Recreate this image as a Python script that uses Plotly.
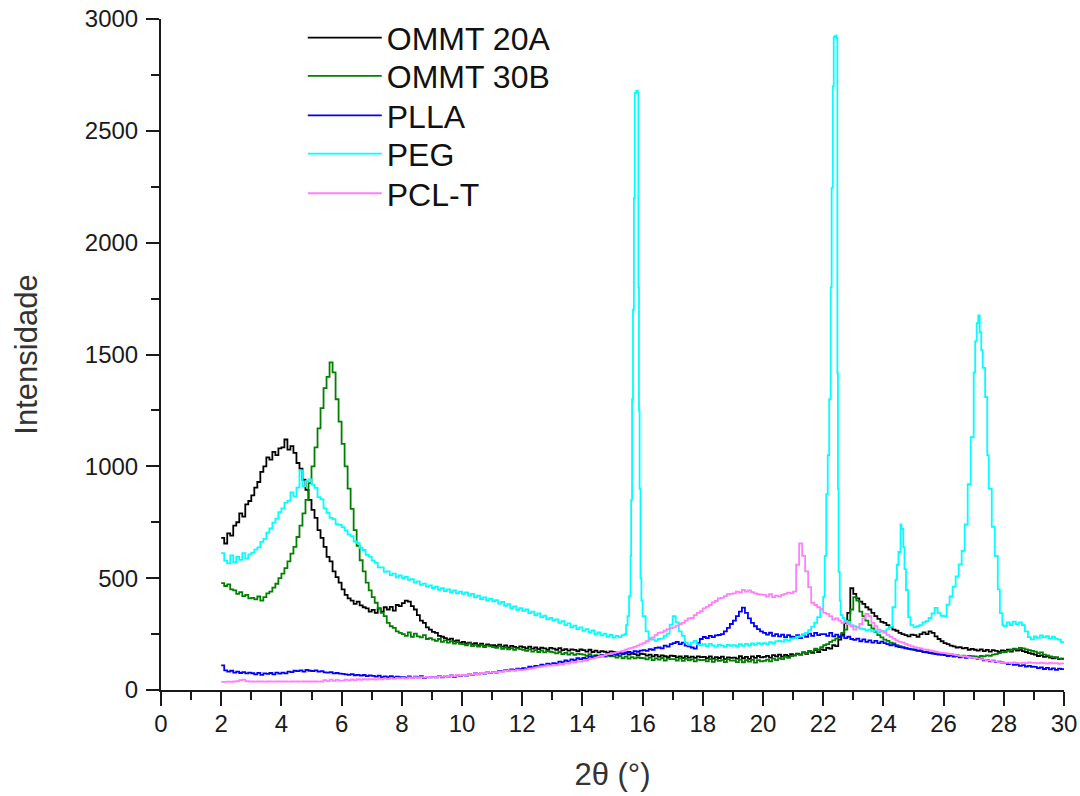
import plotly.graph_objects as go

# ---------------- data ----------------
X_GRID = [round(2 + 0.1 * i, 1) for i in range(281)]  # 2.0 .. 30.0

OMMT20A = [
    680, 655, 700, 690, 735, 750, 790, 775, 830, 845,
    870, 905, 930, 975, 1000, 1040, 1030, 1065, 1050, 1080,
    1085, 1120, 1075, 1090, 1060, 1015, 990, 940, 895, 850,
    805, 770, 715, 680, 640, 595, 575, 530, 505, 480,
    450, 425, 410, 400, 385, 395, 378, 370, 365, 350,
    358, 345, 365, 350, 370, 360, 372, 355, 380, 375,
    388, 400, 395, 375, 360, 335, 310, 300, 280, 270,
    260, 255, 242, 238, 232, 225, 230, 218, 222, 212,
    215, 208, 212, 205, 210, 200, 207, 198, 204, 201,
    200, 196, 203, 194, 199, 190, 197, 193, 188, 195,
    192, 186, 194, 185, 190, 183, 189, 186, 180, 188,
    185, 180, 187, 178, 183, 176, 182, 179, 174, 181,
    178, 172, 180, 170, 176, 168, 174, 171, 166, 173,
    170, 164, 168, 160, 166, 158, 163, 160, 155, 162,
    160, 154, 158, 150, 157, 149, 155, 151, 147, 154,
    152, 146, 150, 143, 151, 145, 149, 144, 150, 147,
    148, 142, 150, 140, 147, 143, 149, 138, 146, 144,
    145, 140, 151, 142, 148, 139, 150, 144, 152, 146,
    148, 153, 145, 156, 150, 158, 149, 157, 152, 160,
    155, 163, 158, 168, 162, 172, 166, 178, 170, 182,
    178, 188, 185, 200, 196, 225, 250, 300, 345, 455,
    430, 410, 395, 385, 370, 360, 345, 330, 318, 305,
    300, 290, 282, 270, 265, 255, 250, 245, 240, 248,
    245, 238, 250, 258, 250, 262, 255, 240, 228, 218,
    210, 205, 198, 195, 190, 192, 186, 188, 180, 184,
    180, 176, 182, 174, 179, 172, 178, 175, 170, 177,
    175, 180, 172, 182, 176, 180, 174, 170, 165, 162,
    158, 152, 155, 148, 150, 145, 142, 146, 138, 140,
    135,
]

OMMT30B = [
    478, 465, 472, 450, 445, 430, 438, 420, 425, 410,
    412, 405, 418, 400, 415, 432, 440, 458, 475, 500,
    520, 545, 575, 610, 640, 684, 735, 790, 850, 925,
    1000, 1085, 1170, 1260, 1350, 1400, 1465, 1420, 1300, 1200,
    1100, 1000, 900, 810, 715, 645, 580, 530, 480, 445,
    415, 390, 365, 345, 330, 300, 285, 278, 262, 255,
    250, 242, 258, 238, 252, 240, 235, 245, 228, 232,
    225, 220, 228, 215, 222, 212, 218, 208, 214, 206,
    205, 200, 208, 196, 202, 194, 200, 192, 198, 195,
    192, 188, 195, 184, 190, 182, 187, 180, 186, 183,
    180, 175, 182, 172, 178, 170, 176, 168, 174, 171,
    168, 164, 170, 160, 166, 158, 165, 157, 163, 160,
    158, 153, 160, 150, 156, 148, 155, 149, 154, 151,
    150, 145, 152, 142, 149, 140, 147, 141, 146, 143,
    142, 137, 145, 134, 141, 136, 143, 132, 140, 138,
    138, 132, 141, 130, 139, 133, 137, 128, 136, 134,
    135, 128, 138, 126, 136, 130, 134, 125, 137, 131,
    132, 125, 136, 124, 133, 127, 135, 122, 134, 128,
    130, 136, 128, 140, 134, 142, 138, 148, 144, 152,
    155, 160, 158, 168, 165, 175, 172, 185, 180, 192,
    200, 205, 215, 222, 230, 240, 255, 270, 310, 360,
    415, 400, 350, 330, 310, 290, 275, 260, 245, 235,
    225, 220, 212, 208, 200, 196, 192, 188, 185, 182,
    180, 175, 178, 170, 172, 166, 168, 162, 165, 160,
    158, 155, 159, 152, 156, 150, 154, 149, 153, 151,
    150, 147, 152, 150, 155, 153, 158, 160, 165, 168,
    170, 175, 180, 185, 183, 188, 186, 182, 178, 175,
    172, 165, 168, 158, 155, 150, 147, 145, 140, 138,
    135,
]

PLLA = [
    110, 88, 82, 86, 78, 82, 76, 80, 74, 78,
    75, 70, 77, 68, 74, 72, 76, 70, 78, 73,
    78, 74, 82, 80, 86, 84, 88, 82, 90, 86,
    85, 88, 82, 84, 79, 78, 80, 74, 76, 73,
    72, 70, 68, 71, 66, 68, 64, 67, 62, 65,
    63, 60, 64, 58, 61, 57, 62, 56, 60, 58,
    58, 55, 61, 54, 60, 56, 62, 53, 59, 57,
    58, 56, 62, 57, 63, 60, 65, 59, 66, 63,
    67, 64, 70, 67, 74, 70, 76, 73, 79, 76,
    80, 78, 85, 83, 89, 86, 92, 90, 96, 93,
    98, 96, 104, 101, 108, 106, 113, 110, 118, 115,
    120, 118, 127, 124, 132, 128, 137, 133, 142, 138,
    143, 140, 150, 146, 152, 149, 156, 152, 159, 155,
    160, 157, 165, 162, 168, 170, 166, 174, 171, 176,
    178, 175, 183, 180, 188, 190, 186, 198, 194, 205,
    210, 215, 205, 212, 198, 195, 190, 185, 210, 228,
    237, 232, 242, 236, 244, 246, 250, 262, 278, 295,
    310, 330, 350, 368, 345, 320, 300, 285, 272, 262,
    255, 248, 256, 242, 250, 240, 248, 236, 245, 238,
    237, 245, 232, 248, 238, 252, 242, 255, 245, 250,
    250, 242, 255, 240, 248, 237, 243, 232, 238, 228,
    224, 230, 218, 226, 215, 222, 212, 220, 210, 216,
    210, 205, 200, 203, 195, 192, 190, 186, 184, 182,
    180, 176, 174, 170, 168, 165, 163, 160, 158, 157,
    156, 152, 155, 149, 152, 146, 150, 144, 147, 145,
    143, 138, 140, 133, 135, 128, 131, 125, 127, 123,
    121, 116, 119, 112, 114, 108, 111, 105, 108, 104,
    103, 98, 101, 94, 99, 92, 97, 90, 96, 93,
    95,
]

PCL_T = [
    36, 36, 37, 36, 38, 40, 44, 46, 40, 38,
    38, 37, 38, 38, 37, 38, 38, 37, 38, 38,
    38, 38, 37, 38, 38, 38, 37, 38, 38, 38,
    38, 38, 37, 38, 44, 40, 46, 41, 45, 42,
    42, 46, 43, 47, 44, 48, 45, 49, 46, 48,
    49, 46, 51, 48, 52, 49, 53, 50, 54, 52,
    54, 51, 56, 53, 57, 54, 58, 55, 59, 57,
    58, 56, 61, 59, 63, 60, 65, 62, 67, 64,
    67, 65, 70, 68, 73, 71, 76, 74, 79, 77,
    80, 78, 83, 82, 86, 84, 88, 86, 91, 89,
    90, 92, 95, 97, 100, 102, 105, 107, 110, 109,
    112, 110, 116, 114, 120, 118, 124, 122, 128, 127,
    130, 133, 138, 140, 145, 148, 152, 155, 160, 162,
    165, 168, 172, 175, 180, 185, 188, 193, 198, 204,
    210, 218, 225, 235, 245, 255, 258, 265, 272, 276,
    280, 288, 295, 300, 310, 320, 322, 335, 345, 352,
    365, 372, 380, 392, 398, 410, 412, 420, 428, 430,
    432, 440, 436, 448, 440, 445, 438, 432, 428, 426,
    425, 418, 428, 415, 422, 418, 425, 430, 435, 432,
    440, 560, 655, 600, 530, 460, 390, 380, 370, 362,
    345, 340, 330, 315, 320, 310, 300, 305, 295, 285,
    270, 280, 295, 320, 340, 330, 300, 285, 270, 262,
    255, 245, 238, 230, 222, 215, 212, 206, 200, 196,
    192, 188, 186, 182, 180, 177, 174, 171, 168, 166,
    165, 162, 160, 158, 155, 153, 151, 149, 147, 145,
    143, 140, 138, 136, 134, 131, 129, 127, 125, 123,
    121, 122, 120, 123, 121, 119, 122, 120, 123, 121,
    121, 119, 122, 120, 118, 121, 119, 120, 117, 119,
    118,
]

# PEG has sharp peaks, so it is sampled more densely around them
PEG_X = (
    [round(2 + 0.1 * i, 1) for i in range(135)]  # 2.0 .. 15.4
    + [15.45, 15.5, 15.55, 15.6, 15.62, 15.65, 15.68, 15.71, 15.74, 15.79,
       15.84, 15.86, 15.88, 15.9, 15.93, 15.96, 16.0, 16.1, 16.2, 16.3,
       16.4, 16.5, 16.6, 16.7, 16.8, 16.9, 17.0, 17.1, 17.2, 17.3,
       17.4, 17.5, 17.6, 17.7, 17.8, 17.9]
    + [round(18 + 0.1 * i, 1) for i in range(40)]  # 18.0 .. 21.9
    + [22.0, 22.05, 22.1, 22.15, 22.2, 22.25, 22.28, 22.32, 22.35, 22.4,
       22.45, 22.47, 22.49, 22.51, 22.55, 22.58, 22.65, 22.7, 22.8, 22.9,
       23.0, 23.1, 23.2, 23.3, 23.4, 23.5, 23.6, 23.7, 23.8, 23.9,
       24.0, 24.1, 24.2, 24.3, 24.4, 24.45, 24.5, 24.57, 24.6, 24.66,
       24.7, 24.75, 24.82, 24.9]
    + [round(25 + 0.1 * i, 1) for i in range(20)]  # 25.0 .. 26.9
    + [27.0, 27.05, 27.1, 27.15, 27.2, 27.25, 27.3, 27.38, 27.45, 27.5,
       27.6, 27.7, 27.8, 27.87, 27.95]
    + [round(28 + 0.1 * i, 1) for i in range(21)]  # 28.0 .. 30.0
)

PEG = [
    612, 578, 566, 602, 572, 596, 582, 612, 588, 606,
    614, 628, 638, 662, 676, 704, 722, 748, 766, 795,
    812, 838, 846, 884, 866, 905, 982, 912, 934, 942,
    918, 904, 862, 852, 812, 792, 770, 764, 742, 738,
    728, 714, 696, 688, 664, 658, 636, 626, 604, 596,
    578, 568, 548, 548, 528, 530, 514, 520, 504, 512,
    500, 506, 492, 496, 480, 486, 470, 476, 462, 468,
    456, 462, 448, 455, 442, 450, 436, 445, 432, 440,
    430, 436, 422, 430, 414, 422, 406, 414, 400, 408,
    396, 402, 386, 394, 376, 384, 366, 374, 358, 366,
    354, 360, 344, 350, 334, 342, 326, 332, 316, 322,
    310, 316, 300, 308, 290, 298, 280, 288, 272, 280,
    264, 272, 258, 266, 250, 258, 244, 252, 238, 246,
    234, 242, 236, 245, 250,
    290, 330, 420, 600, 850, 1300, 1700, 2200, 2670, 2680,
    2670, 1800, 1250, 900, 500, 400, 330, 262, 232, 226,
    220, 228, 230, 242, 252, 292, 330, 302, 262, 242,
    212, 202, 212, 220, 204, 200,
    205, 196, 206, 199, 194, 203, 198, 193, 202, 197,
    200, 194, 205, 197, 206, 199, 208, 202, 210, 205,
    210, 204, 214, 208, 217, 220, 216, 226, 221, 229,
    232, 238, 240, 248, 255, 268, 282, 300, 326, 360,
    416, 600, 876, 1050, 1300, 1800, 2245, 2700, 2920, 2925,
    2915, 1417, 900, 528, 400, 335, 322, 308, 302, 290,
    285, 280, 274, 272, 266, 270, 262, 266, 258, 264,
    262, 272, 282, 370, 492, 560, 617, 740, 720, 639,
    540, 447, 326, 290,
    280, 286, 290, 302, 308, 322, 342, 367, 344, 332,
    330, 382, 418, 462, 508, 562, 622, 740, 920, 1130,
    1420, 1560, 1640, 1675, 1600, 1520, 1440, 1310, 1050, 900,
    729, 600, 450, 344, 290,
    285, 302, 290, 306, 294, 302, 290, 262, 236, 226,
    240, 233, 244, 235, 241, 231, 239, 229, 225, 214,
    210,
]

NAMES = ["OMMT 20A", "OMMT 30B", "PLLA", "PEG", "PCL-T"]
COLORS = ["#000000", "#008000", "#0000FF", "#00FFFF", "#FF80FF"]

X_TICKS = list(range(0, 31, 2))
Y_TICKS = list(range(0, 3001, 500))

assert len(OMMT20A) == len(X_GRID)
assert len(OMMT30B) == len(X_GRID)
assert len(PLLA) == len(X_GRID)
assert len(PCL_T) == len(X_GRID)
assert len(PEG) == len(PEG_X)

# ---------------- figure ----------------
series = [
    (NAMES[0], X_GRID, OMMT20A, COLORS[0]),
    (NAMES[1], X_GRID, OMMT30B, COLORS[1]),
    (NAMES[2], X_GRID, PLLA, COLORS[2]),
    (NAMES[3], PEG_X, PEG, COLORS[3]),
    (NAMES[4], X_GRID, PCL_T, COLORS[4]),
]

LEGEND_IDS = ["legend", "legend2", "legend3", "legend4", "legend5"]
LEGEND_Y = [0.972, 0.915, 0.856, 0.799, 0.740]   # one row per legend box

fig = go.Figure()
for (name, xs, ys, col), lid in zip(series, LEGEND_IDS):
    fig.add_trace(go.Scatter(
        x=xs, y=ys, mode="lines", name=name, legend=lid,
        line=dict(color=col, width=1.8, shape="hv"),
    ))

AX = "#1a1a1a"
FONT = "Liberation Sans, Arial, sans-serif"

legend_common = dict(
    x=0.157, xanchor="left", yanchor="middle",
    font=dict(size=32, family=FONT, color="#111111"),
    bgcolor="rgba(0,0,0,0)", itemwidth=74, tracegroupgap=0,
)

layout_legends = {lid: dict(legend_common, y=ly) for lid, ly in zip(LEGEND_IDS, LEGEND_Y)}

fig.update_layout(
    width=1080, height=796,
    margin=dict(l=161, r=16, t=19, b=106, autoexpand=False),
    paper_bgcolor="white", plot_bgcolor="white",
    font=dict(family=FONT, color=AX),
    showlegend=True,
    hovermode=False,
    **layout_legends,
)

fig.update_xaxes(
    range=[0, 30], tickmode="array", tickvals=X_TICKS,
    ticktext=[str(v) for v in X_TICKS],
    ticks="outside", ticklen=14, tickwidth=2, tickcolor=AX,
    showline=True, linewidth=2, linecolor=AX, mirror=False,
    showgrid=False, zeroline=False, automargin=False,
    ticklabeloverflow="allow",
    tickfont=dict(size=24, family=FONT, color=AX),
    ticklabelstandoff=-3,
    minor=dict(dtick=1, tick0=0, ticks="outside", ticklen=8, tickwidth=2,
               tickcolor=AX, showgrid=False),
    title=dict(text="2θ (°)", font=dict(size=31, family=FONT, color="#333333"),
               standoff=28),
)

fig.update_yaxes(
    range=[0, 3000], tickmode="array", tickvals=Y_TICKS,
    ticktext=[str(v) for v in Y_TICKS],
    ticks="outside", ticklen=13, tickwidth=2, tickcolor=AX,
    showline=True, linewidth=2, linecolor=AX, mirror=False,
    showgrid=False, zeroline=False, automargin=False,
    ticklabeloverflow="allow",
    tickfont=dict(size=24, family=FONT, color=AX),
    ticklabelstandoff=3,
    minor=dict(dtick=250, tick0=0, ticks="outside", ticklen=8, tickwidth=2,
               tickcolor=AX, showgrid=False),
    title=dict(text="Intensidade", font=dict(size=31, family=FONT, color="#333333"),
               standoff=38),
)

# remove the browser's default 8 px page margin so the figure fills the window exactly
fig.write_html(
    "out.html",
    config={"displayModeBar": False},
    post_script="document.body.style.margin='0px';",
)
